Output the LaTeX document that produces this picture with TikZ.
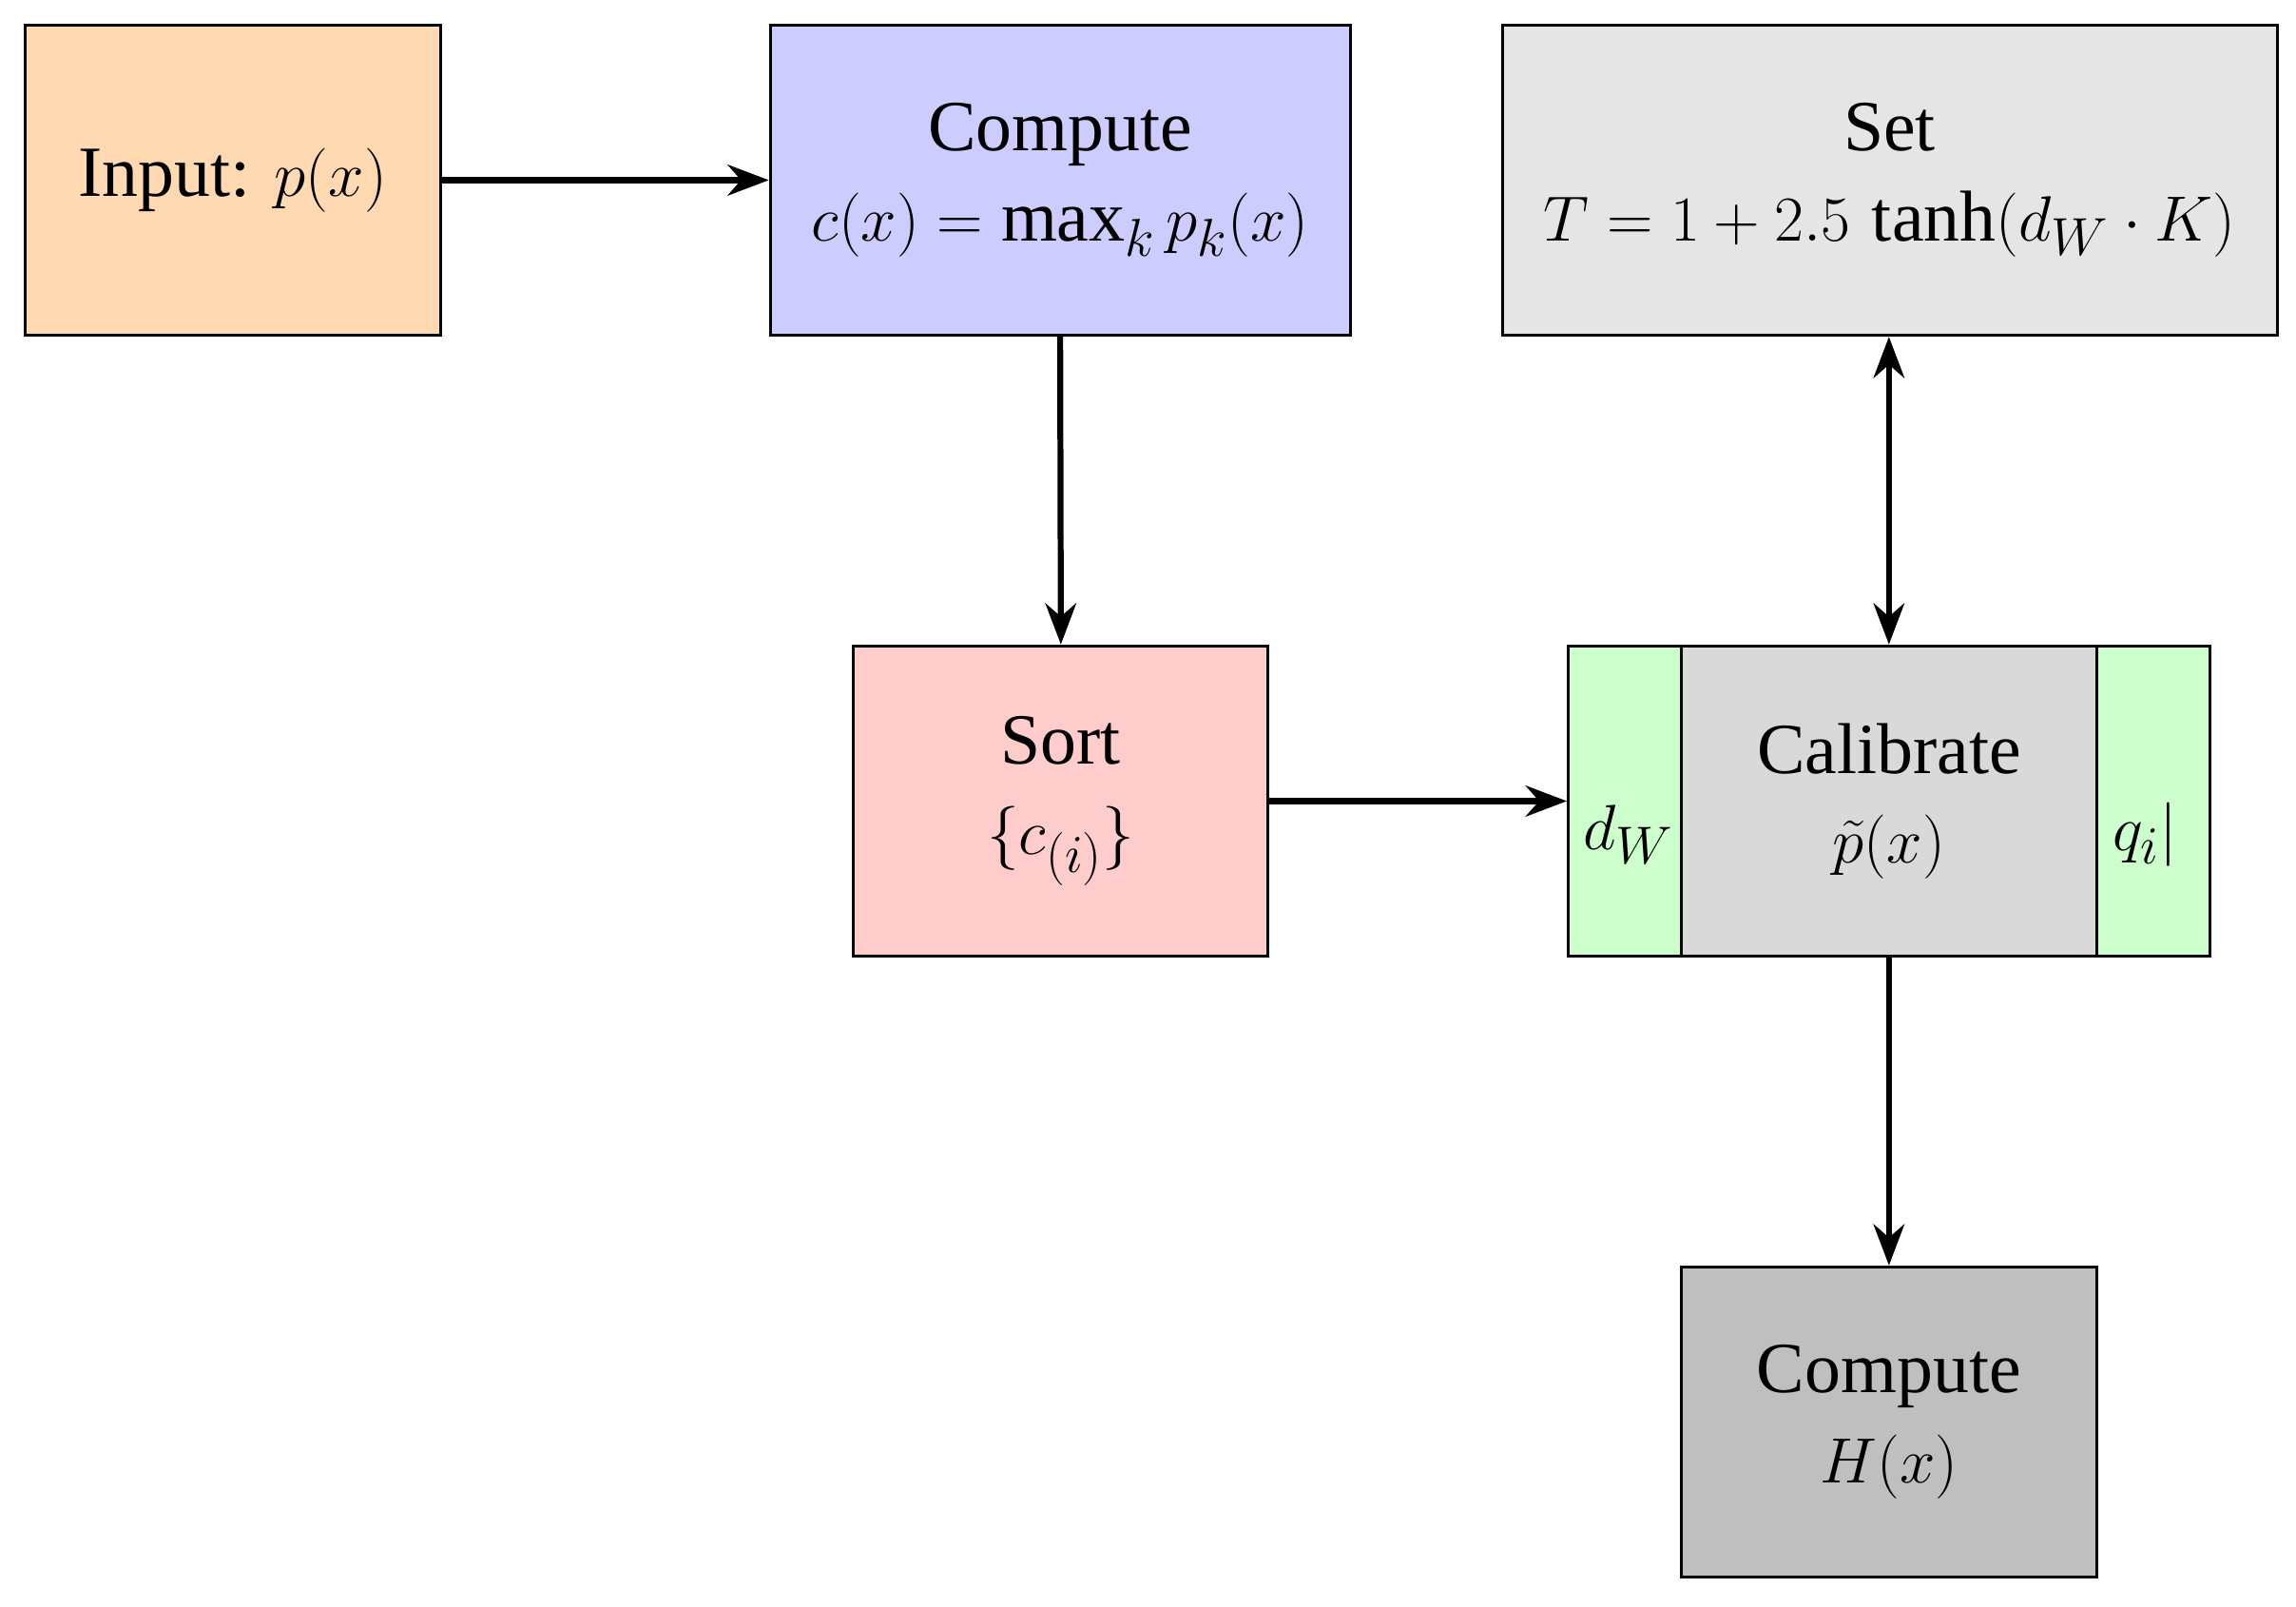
\documentclass[tikz,border=0pt]{standalone}
\usepackage{fontspec}
\setmainfont{Liberation Serif}
\usetikzlibrary{arrows.meta}
\begin{document}
\begin{tikzpicture}[x=0.02cm,y=-0.02cm,
  box/.style={draw=black,line width=1.1pt,inner sep=0pt,align=center,font=\fontsize{28}{35}\selectfont},
  arr/.style={line width=2.3pt,-{Stealth[length=16pt,width=12pt]}},
  darr/.style={line width=2.3pt,{Stealth[length=16pt,width=12pt]}-{Stealth[length=16pt,width=12pt]}}]
\useasboundingbox (0,0) rectangle (1568,1097);
\node[box,fill=orange!30,minimum width=284*0.02cm,minimum height=212*0.02cm] (in) at (159,123) {Input: $p(x)$};
\node[box,fill=blue!20,minimum width=396*0.02cm,minimum height=212*0.02cm] (c1) at (724,123) {Compute\\$c(x)=\max_k p_k(x)$};
\node[box,fill=gray!20,minimum width=529*0.02cm,minimum height=212*0.02cm] (set) at (1290.5,123) {Set\\$T=1+2.5\,\tanh(d_W\cdot K)$};
\node[box,fill=red!20,minimum width=283*0.02cm,minimum height=212*0.02cm] (sort) at (724.5,547) {Sort\\$\{c_{(i)}\}$};
\node[box,fill=green!20,minimum width=438*0.02cm,minimum height=212*0.02cm] (cal) at (1290,547) {};
\node[box,fill=gray!30,minimum width=284*0.02cm,minimum height=212*0.02cm] (calin) at (1290,547) {Calibrate\\$\tilde p(x)$};
\node[font=\fontsize{28}{35}\selectfont,inner sep=0pt] (dw) at (1112,570) {$d_W$};
\node[font=\fontsize{28}{35}\selectfont,inner sep=0pt] (qi) at (1465,570) {$q_i|$};
\node[box,fill=gray!50,minimum width=284*0.02cm,minimum height=212*0.02cm] (ch) at (1290,971) {Compute\\$H(x)$};
\draw[arr] (in.east) -- (c1.west);
\draw[arr] (c1.south) -- (sort.north);
\draw[arr] (sort.east) -- (cal.west);
\draw[darr] (set.south -| cal.north) -- (cal.north);
\draw[arr] (cal.south) -- (ch.north);
\end{tikzpicture}
\end{document}
